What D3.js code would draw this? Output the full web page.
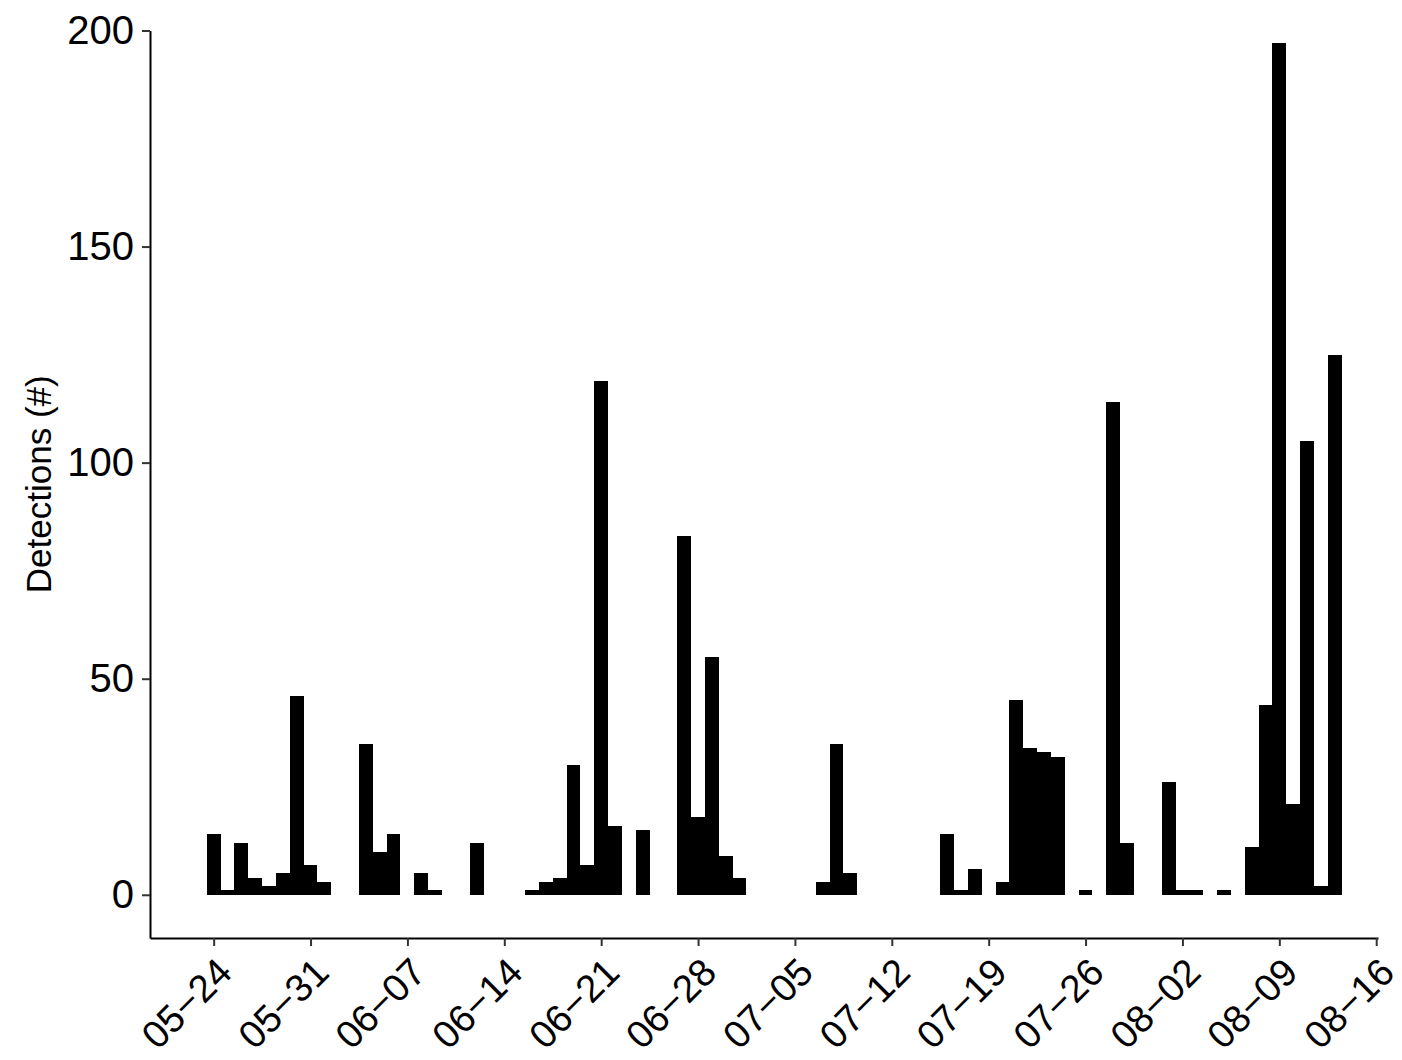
<!DOCTYPE html>
<html><head><meta charset="utf-8">
<script src="https://cdn.jsdelivr.net/npm/d3@7"></script>
<style>body{margin:0;background:#fff}</style>
</head><body>
<svg id="chart" width="1402" height="1060"></svg>
<script>
// ---- data ----
const dates = ["05-24","05-25","05-26","05-27","05-28","05-29","05-30","05-31","06-01",
  "06-04","06-05","06-06","06-08","06-09","06-12",
  "06-16","06-17","06-18","06-19","06-20","06-21","06-22","06-24",
  "06-27","06-28","06-29","06-30","07-01",
  "07-07","07-08","07-09",
  "07-16","07-17","07-18","07-20","07-21","07-22","07-23","07-24","07-26",
  "07-28","07-29","08-01","08-02","08-03","08-05",
  "08-07","08-08","08-09","08-10","08-11","08-12","08-13"];
const detections = [14,1,12,4,2,5,46,7,3,
  35,10,14,5,1,12,
  1,3,4,30,7,119,16,15,
  83,18,55,9,4,
  3,35,5,
  14,1,6,3,45,34,33,32,1,
  114,12,26,1,1,1,
  11,44,197,21,105,2,125];
const xTickLabels = ["05-24","05-31","06-07","06-14","06-21","06-28","07-05","07-12","07-19","07-26","08-02","08-09","08-16"];
const yTicks = [0,50,100,150,200];
const yTitle = "Detections (#)";
const year = 2021;

// ---- scales ----
const parse = md => d3.utcParse("%Y-%m-%d")(year + "-" + md);
const DAY = 864e5;
const start = parse(xTickLabels[0]);
const xDomain = [new Date(+start - 4.6 * DAY), new Date(+start + 84.13 * DAY)];
const x = d3.scaleUtc().domain(xDomain).range([150, 1378]);
const y = d3.scaleLinear().domain([-10, 200]).range([938, 30.5]);

const svg = d3.select("#chart");
const font = "'Liberation Sans', Arial, Helvetica, sans-serif";

// ---- bars ----
const data = dates.map((d, i) => ({date: parse(d), value: detections[i]}));
svg.append("g").attr("shape-rendering", "crispEdges")
  .selectAll("rect").data(data).join("rect")
  .attr("x", d => x(new Date(+d.date - DAY / 2)))
  .attr("width", d => x(new Date(+d.date + DAY / 2)) - x(new Date(+d.date - DAY / 2)))
  .attr("y", d => y(d.value))
  .attr("height", d => y(0) - y(d.value))
  .attr("fill", "#000");

// ---- y axis ----
const gy = svg.append("g").attr("transform", "translate(150,0)")
  .call(d3.axisLeft(y).tickValues(yTicks).tickSize(8).tickSizeOuter(0).tickPadding(8));
gy.select(".domain").attr("stroke", "#000").attr("stroke-width", 2);
gy.selectAll(".tick line").attr("stroke", "#333").attr("stroke-width", 2);
gy.selectAll(".tick text").attr("font-family", font).attr("font-size", 40).attr("fill", "#000");

// ---- x axis ----
const xTickDates = xTickLabels.map(parse);
const gx = svg.append("g").attr("transform", "translate(0,938)")
  .call(d3.axisBottom(x).tickValues(xTickDates).tickSize(8).tickSizeOuter(0).tickFormat(() => ""));
gx.select(".domain").attr("stroke", "#000").attr("stroke-width", 2);
gx.selectAll(".tick line").attr("stroke", "#333").attr("stroke-width", 2);
gx.selectAll(".tick text").remove();

svg.append("g").selectAll("text").data(xTickLabels).join("text")
  .attr("transform", d => `translate(${x(parse(d)) + 1},955) rotate(-45)`)
  .attr("text-anchor", "end")
  .attr("dy", "0.716em")
  .attr("font-family", font).attr("font-size", 38.5).attr("fill", "#000")
  .text(d => d.replace("-", "\u2212"));

// ---- y title ----
svg.append("text")
  .attr("transform", `translate(51,${(y(200) + y(-10)) / 2}) rotate(-90)`)
  .attr("text-anchor", "middle")
  .attr("font-family", font).attr("font-size", 35).attr("fill", "#000")
  .text(yTitle);
</script>
</body></html>
